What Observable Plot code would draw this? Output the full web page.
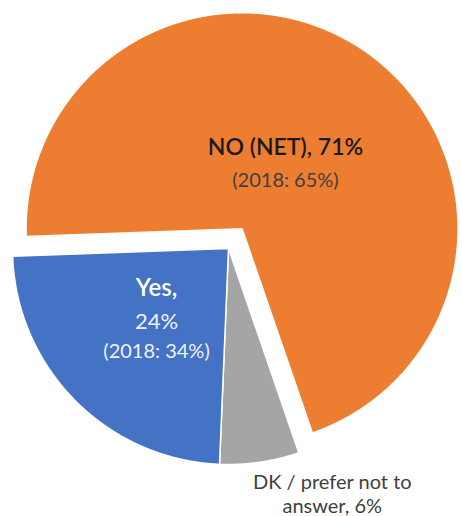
<!DOCTYPE html>
<html><head><meta charset="utf-8">
<script src="https://cdn.jsdelivr.net/npm/d3@7"></script>
<script src="https://cdn.jsdelivr.net/npm/@observablehq/plot@0.6"></script>
<style>body{margin:0;background:#fff;} svg{display:block;}</style>
</head><body><div id="chart"></div>
<script>
// Data
const categories = ["DK / prefer not to answer", "Yes", "NO (NET)"];
const values = [6, 24, 71];
const colors = ["#A5A5A5", "#4472C4", "#ED7D31"];
const valueLabels = ["6%", "24%", "71%"];
const labels2018 = [null, "34%", "65%"];

// Layout
const W = 462, H = 516, cx = 228, cy = 248, R = 216;
const startDeg = 161;
const explode = [0, 0, 24];
const rad = Math.PI / 180;

const arcs = d3.pie().sort(null)
  .startAngle(startDeg * rad).endAngle(startDeg * rad + 2 * Math.PI)(values);

const points = [];
const geo = arcs.map((a, i) => {
  const mid = (a.startAngle + a.endAngle) / 2;
  const ox = cx + explode[i] * Math.sin(mid);
  const oy = cy - explode[i] * Math.cos(mid);
  const cat = categories[i];
  points.push({cat, x: ox, y: oy});
  const n = Math.ceil((a.endAngle - a.startAngle) / 0.005);
  for (let k = 0; k <= n; k++) {
    const t = a.startAngle + (a.endAngle - a.startAngle) * k / n;
    points.push({cat, x: ox + R * Math.sin(t), y: oy - R * Math.cos(t)});
  }
  points.push({cat, x: ox, y: oy});
  return {ox, oy, mid};
});

function polar(i, f, angDeg) {
  const g = geo[i];
  const ang = angDeg == null ? g.mid : angDeg * rad;
  return {x: g.ox + f * R * Math.sin(ang), y: g.oy - f * R * Math.cos(ang)};
}

const pNo = polar(2, 0.355);
const pYes = polar(1, 0.47);
const pDk = polar(0, 1.23, 157);

const font = "Lato, 'Open Sans', sans-serif";

const chart = Plot.plot({
  width: W, height: H,
  margin: 0,
  x: {domain: [0, W], range: [0, W], axis: null},
  y: {domain: [0, H], range: [0, H], axis: null},
  color: {domain: categories, range: colors},
  style: {fontFamily: font, background: "white"},
  marks: [
    Plot.line(points, {x: "x", y: "y", z: "cat", fill: "cat", stroke: "white", strokeWidth: 1.5, curve: "linear"}),
    Plot.text([pNo], {x: "x", y: "y", dy: -18, text: () => `${categories[2]}, ${valueLabels[2]}`, fontSize: 23, fontWeight: 600, fill: "#1a1a1a"}),
    Plot.text([pNo], {x: "x", y: "y", dy: 15, text: () => `(2018: ${labels2018[2]})`, fontSize: 20, fill: "#3f3f3f"}),
    Plot.text([pYes], {x: "x", y: "y", dy: -32, text: () => `${categories[1]},`, fontSize: 24, fontWeight: 600, fill: "#ffffff"}),
    Plot.text([pYes], {x: "x", y: "y", dy: 2, text: () => valueLabels[1], fontSize: 22, fill: "#eef2fa"}),
    Plot.text([pYes], {x: "x", y: "y", dy: 32, text: () => `(2018: ${labels2018[1]})`, fontSize: 20, fill: "#eef2fa"}),
    Plot.text([pDk], {x: "x", y: "y", text: () => `DK / prefer not to\nanswer, ${valueLabels[0]}`, fontSize: 20, lineHeight: 1.2, fill: "#404040"})
  ]
});
document.getElementById("chart").appendChild(chart);
</script>
</body></html>
